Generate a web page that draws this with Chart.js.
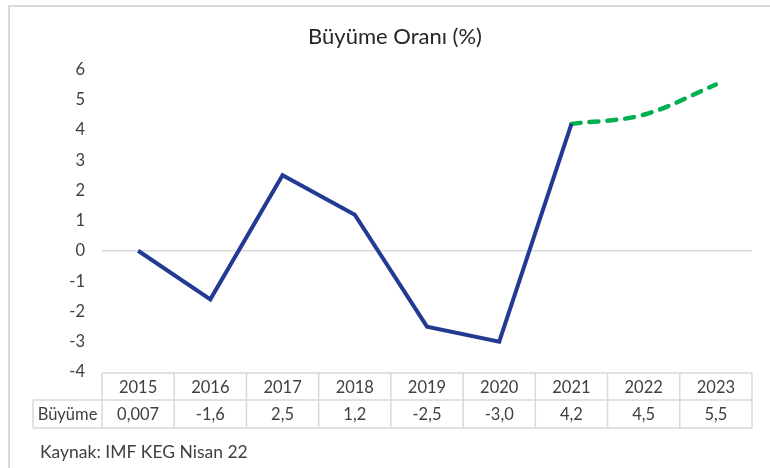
<!DOCTYPE html>
<html lang="tr">
<head>
  <meta charset="UTF-8" />
  <title>Büyüme Oranı (%)</title>
  <script src="https://cdn.jsdelivr.net/npm/chart.js@4.4.0/dist/chart.umd.min.js"></script>
  <style>
    html, body { margin: 0; padding: 0; background: #fff; }
    #wrap { width: 770px; height: 468px; position: relative; }
  </style>
</head>
<body>
  <div id="wrap"><canvas id="growthChart"></canvas></div>

  <script>
    // data
    const years = ["2015", "2016", "2017", "2018", "2019", "2020", "2021", "2022", "2023"];
    const growth = [0.007, -1.6, 2.5, 1.2, -2.5, -3.0, 4.2, 4.5, 5.5];
    const growthText = ["0,007", "-1,6", "2,5", "1,2", "-2,5", "-3,0", "4,2", "4,5", "5,5"];
    const forecastFrom = 6; // 2021 onwards dashed
    const rowLabel = "Büyüme";
    const sourceNote = "Kaynak: IMF KEG Nisan 22";

    const actual = growth.map((v, i) => (i <= forecastFrom ? v : null));
    const forecast = growth.map((v, i) => (i >= forecastFrom ? v : null));

    const FONT = "Lato, 'Liberation Sans', sans-serif";
    const TEXT = "#404040";
    const LINE = "#d9d9d9";

    // frame, data table and source note
    const tablePlugin = {
      id: "tablePlugin",
      beforeDraw(chart) {
        const ctx = chart.ctx;
        ctx.save();
        ctx.fillStyle = "#fff";
        ctx.fillRect(0, 0, chart.width, chart.height);
        ctx.strokeStyle = LINE;
        ctx.lineWidth = 2;
        ctx.beginPath();
        ctx.moveTo(9, chart.height);
        ctx.lineTo(9, 6);
        ctx.lineTo(chart.width, 6);
        ctx.stroke();
        ctx.restore();
      },
      afterDraw(chart) {
        const ctx = chart.ctx;
        const x = chart.scales.x;
        const area = chart.chartArea;
        const colW = (area.right - area.left) / years.length;
        const top = area.bottom + 1;
        const mid = top + 27;
        const bot = mid + 28;
        const labelLeft = 33;

        ctx.save();
        ctx.strokeStyle = LINE;
        ctx.lineWidth = 1.5;
        ctx.beginPath();
        // horizontal lines
        ctx.moveTo(area.left, top); ctx.lineTo(area.right, top);
        ctx.moveTo(labelLeft, mid); ctx.lineTo(area.right, mid);
        ctx.moveTo(labelLeft, bot); ctx.lineTo(area.right, bot);
        // vertical lines
        ctx.moveTo(labelLeft, mid); ctx.lineTo(labelLeft, bot);
        for (let i = 0; i <= years.length; i++) {
          const px = area.left + i * colW;
          ctx.moveTo(px, top); ctx.lineTo(px, bot);
        }
        ctx.stroke();

        ctx.fillStyle = TEXT;
        ctx.font = "16.5px " + FONT;
        ctx.textAlign = "center";
        ctx.textBaseline = "middle";
        years.forEach((y, i) => {
          const cx = x.getPixelForValue(i);
          ctx.fillText(y, cx, (top + mid) / 2 + 1);
          ctx.fillText(growthText[i], cx, (mid + bot) / 2 + 1);
        });
        ctx.fillText(rowLabel, (labelLeft + area.left) / 2, (mid + bot) / 2 + 1);

        ctx.textAlign = "left";
        ctx.font = "17.5px " + FONT;
        ctx.fillText(sourceNote, 40, 452);
        ctx.restore();
      }
    };

    new Chart(document.getElementById("growthChart").getContext("2d"), {
      type: "line",
      data: {
        labels: years,
        datasets: [
          {
            label: "Büyüme",
            data: actual,
            borderColor: "#233A93",
            borderWidth: 4,
            pointRadius: 0,
            tension: 0,
            borderJoinStyle: "miter",
          },
          {
            label: "Tahmin",
            data: forecast,
            borderColor: "#00B050",
            borderWidth: 4.5,
            borderDash: [9, 9],
            borderCapStyle: "round",
            pointRadius: 0,
            tension: 0.35,
          },
        ],
      },
      options: {
        responsive: true,
        maintainAspectRatio: false,
        animation: false,
        layout: { padding: { left: 38, right: 18, top: 0, bottom: 96 } },
        plugins: {
          legend: { display: false },
          tooltip: { enabled: false },
          title: {
            display: true,
            text: "Büyüme Oranı (%)",
            color: "#262626",
            font: { family: FONT, size: 22, weight: "normal" },
            padding: { top: 24, bottom: 19 },
          },
        },
        scales: {
          x: {
            display: false,
            offset: true,
          },
          y: {
            min: -4,
            max: 6,
            ticks: {
              stepSize: 1,
              color: TEXT,
              padding: 17,
              font: { family: FONT, size: 16.5 },
            },
            grid: {
              drawTicks: false,
              lineWidth: 1.5,
              color: (c) => (c.tick && c.tick.value === 0 ? LINE : "transparent"),
            },
            border: { display: false },
            afterFit(scale) { scale.width = 64; },
          },
        },
      },
      plugins: [tablePlugin],
    });
  </script>
</body>
</html>
